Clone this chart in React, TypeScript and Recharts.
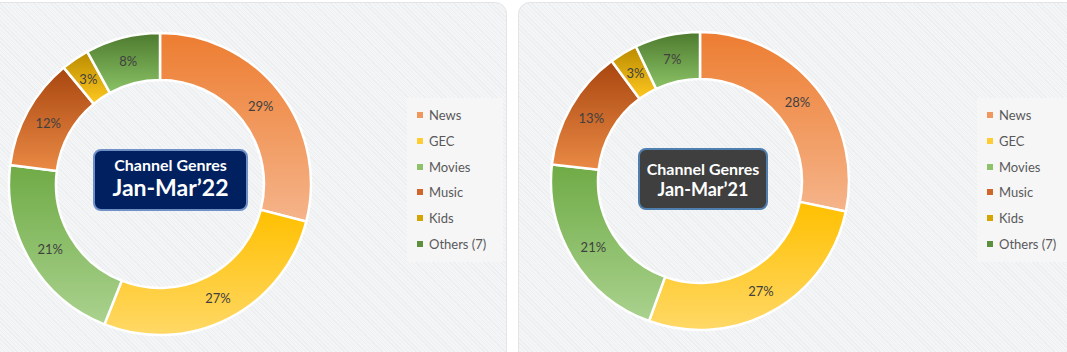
import React from 'react';
import { PieChart, Pie, Cell } from 'recharts';

const categories = ['News', 'GEC', 'Movies', 'Music', 'Kids', 'Others (7)'];
const share2022 = [29, 27, 21, 12, 3, 8];
const share2021 = [28, 27, 21, 13, 3, 7];
const titleLine = 'Channel Genres';
const period2022 = 'Jan-Mar’22';
const period2021 = 'Jan-Mar’21';

const gradTop = ['#ED7D31', '#FFC000', '#6FAB46', '#A8460F', '#B98B00', '#4D7A2E'];
const gradBottom = ['#F5B48A', '#FFD866', '#AAD28E', '#EA8A45', '#FFC820', '#8BC266'];
const legendColors = ['#F0975D', '#FFCC33', '#8DC26A', '#D0662A', '#D4A400', '#5E8F3D'];

const data2022 = categories.map((name, i) => ({ name, value: share2022[i] }));
const data2021 = categories.map((name, i) => ({ name, value: share2021[i] }));

const RAD = Math.PI / 180;
const FONT = 'Lato, "Open Sans", sans-serif';

const renderLabel = (p: any) => {
  const r = (p.innerRadius + p.outerRadius) / 2;
  const x = p.cx + r * Math.cos(-p.midAngle * RAD);
  const y = p.cy + r * Math.sin(-p.midAngle * RAD);
  return (
    <text x={x} y={y} fill="#404040" fontSize={13} fontFamily={FONT} textAnchor="middle" dominantBaseline="central">
      {p.value}%
    </text>
  );
};

const panelBg = 'repeating-linear-gradient(45deg, #eceef0 0px, #eceef0 1px, #f4f5f6 1px, #f4f5f6 3px)';

const Legend = ({ left }: { left: number }) => (
  <div style={{ position: 'absolute', left, top: 98, width: 96, height: 164, background: '#f6f6f7' }}>
    {categories.map((c, i) => (
      <div key={c} style={{ position: 'absolute', left: 10, top: 9 + i * 25.8, height: 16, display: 'flex', alignItems: 'center', fontFamily: FONT, fontSize: 13, color: '#595959', whiteSpace: 'nowrap' }}>
        <span style={{ display: 'inline-block', width: 6, height: 6, background: legendColors[i], marginRight: 6 }} />
        {c}
      </div>
    ))}
  </div>
);

export default function App() {
  return (
    <div style={{ position: 'absolute', left: 0, top: 0, width: 1067, height: 352, overflow: 'hidden', background: '#ffffff' }}>
      <svg width={0} height={0} style={{ position: 'absolute' }}>
        <defs>
          {gradTop.map((c, i) => (
            <linearGradient key={i} id={`g${i}`} x1="0" y1="0" x2="0" y2="1">
              <stop offset="0%" stopColor={c} />
              <stop offset="100%" stopColor={gradBottom[i]} />
            </linearGradient>
          ))}
        </defs>
      </svg>
      <div style={{ position: 'absolute', left: -14, top: 2, width: 519, height: 370, borderRadius: 12, background: panelBg, border: '1px solid #e2e4e6' }} />
      <div style={{ position: 'absolute', left: 518, top: 2, width: 570, height: 370, borderRadius: 12, background: panelBg, border: '1px solid #e2e4e6' }} />
      <Legend left={407} />
      <Legend left={977} />
      <div style={{ position: 'absolute', left: 0, top: 0 }}>
        <PieChart width={1067} height={352} margin={{ top: 0, right: 0, bottom: 0, left: 0 }}>
          <Pie data={data2022} dataKey="value" nameKey="name" cx={160} cy={184} innerRadius={104} outerRadius={151}
            startAngle={90} endAngle={-270} stroke="#ffffff" strokeWidth={2.5} label={renderLabel} labelLine={false} isAnimationActive={false}>
            {data2022.map((d, i) => <Cell key={d.name} fill={`url(#g${i})`} />)}
          </Pie>
          <Pie data={data2021} dataKey="value" nameKey="name" cx={700} cy={181} innerRadius={102} outerRadius={149}
            startAngle={90} endAngle={-270} stroke="#ffffff" strokeWidth={2.5} label={renderLabel} labelLine={false} isAnimationActive={false}>
            {data2021.map((d, i) => <Cell key={d.name} fill={`url(#g${i})`} />)}
          </Pie>
        </PieChart>
      </div>
      <div style={{ position: 'absolute', left: 93, top: 149, width: 151, height: 58, borderRadius: 8, background: '#002060', border: '2px solid #6f8fc6', color: '#fff', fontFamily: FONT, fontWeight: 700, textAlign: 'center' }}>
        <div style={{ fontSize: 16, lineHeight: '19px', marginTop: 4 }}>{titleLine}</div>
        <div style={{ fontSize: 23, lineHeight: '27px' }}>{period2022}</div>
      </div>
      <div style={{ position: 'absolute', left: 638, top: 148, width: 126, height: 58, borderRadius: 8, background: '#3f3f3f', border: '2px solid #4f7fae', color: '#fff', fontFamily: FONT, fontWeight: 700, textAlign: 'center' }}>
        <div style={{ fontSize: 16, lineHeight: '19px', marginTop: 9 }}>{titleLine}</div>
        <div style={{ fontSize: 18, lineHeight: '22px' }}>{period2021}</div>
      </div>
    </div>
  );
}
